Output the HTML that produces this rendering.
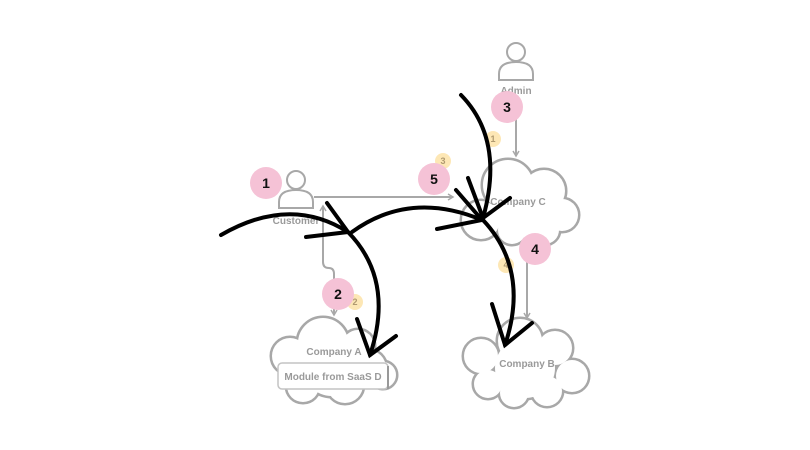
<!DOCTYPE html>
<html><head><style>
html,body{margin:0;padding:0;background:#fff;width:810px;height:450px;overflow:hidden}
text{font-family:"Liberation Sans",sans-serif;font-weight:bold}
</style></head><body>
<svg width="810" height="450" viewBox="0 0 810 450" xmlns="http://www.w3.org/2000/svg">
<defs>
<marker id="ga" markerWidth="8" markerHeight="8" refX="6" refY="4" orient="auto" markerUnits="userSpaceOnUse"><path d="M1,1 L6,4 L1,7" fill="none" stroke="#a8a8a8" stroke-width="1.5"/></marker>
<g id="cC"><circle cx="508" cy="185" r="25"/><circle cx="544" cy="191" r="21"/><circle cx="562" cy="215" r="16"/><circle cx="545" cy="230" r="14"/><circle cx="512" cy="230" r="14"/><circle cx="481" cy="220" r="19"/><circle cx="520" cy="210" r="28"/></g>
<g id="cA"><circle cx="323" cy="343" r="25"/><circle cx="358" cy="346" r="16"/><circle cx="383" cy="375" r="13"/><circle cx="345" cy="385" r="18"/><circle cx="303" cy="386" r="16"/><circle cx="290" cy="356" r="18"/><circle cx="332" cy="366" r="30"/><circle cx="368" cy="368" r="18"/></g>
<g id="cB"><circle cx="520" cy="341" r="22"/><circle cx="555" cy="348" r="17"/><circle cx="572" cy="376" r="16"/><circle cx="547" cy="391" r="15"/><circle cx="514" cy="393" r="14"/><circle cx="488" cy="384" r="14"/><circle cx="481" cy="356" r="17"/><circle cx="525" cy="368" r="30"/></g>
</defs>
<!-- grey connectors -->
<g fill="none" stroke="#a8a8a8" stroke-width="2">
<path d="M314,197 L453,197" marker-end="url(#ga)"/>
<path d="M323,262 Q323,268 329,268 Q334,268 334,274 L334,315" marker-end="url(#ga)"/>
<path d="M323,262 L323,206" marker-end="url(#ga)"/>
<path d="M516,112 L516,156" marker-end="url(#ga)"/>
<path d="M527,244 L527,318" marker-end="url(#ga)"/>
</g>
<!-- clouds -->
<g fill="#a8a8a8" stroke="#a8a8a8" stroke-width="5"><use href="#cC"/><use href="#cA"/><use href="#cB"/></g>
<g fill="#fff"><use href="#cC"/><use href="#cA"/><use href="#cB"/></g>
<!-- module box -->
<rect x="278" y="363" width="110" height="26" rx="4" fill="#fff" stroke="#c4c4c4" stroke-width="1.5"/>
<line x1="388" y1="366" x2="388" y2="389" stroke="#999" stroke-width="2"/>
<g fill="#9a9a9a" font-size="10" text-anchor="middle">
<text x="333" y="380">Module from SaaS D</text>
<text x="334" y="355">Company A</text>
<text x="527" y="367">Company B</text>
<text x="518" y="205">Company C</text>
<text x="296" y="224">Customer</text>
<text x="516" y="94">Admin</text>
</g>
<!-- person icons -->
<g fill="#fff" stroke="#a8a8a8" stroke-width="2">
<circle cx="296" cy="180" r="9"/><path d="M279,208 L279,202 Q279,190 296,190 Q313,190 313,202 L313,208 Z"/>
<circle cx="516" cy="52" r="9"/><path d="M499,80 L499,74 Q499,62 516,62 Q533,62 533,74 L533,80 Z"/>
</g>
<!-- yellow badges -->
<g fill="#fde7b5"><circle cx="355" cy="302" r="8"/><circle cx="493" cy="139" r="8"/><circle cx="443" cy="161" r="8"/><circle cx="506" cy="265" r="8"/></g>
<g fill="#b09a70" font-size="9" text-anchor="middle" style="font-weight:normal">
<text x="355" y="305">2</text><text x="493" y="142">1</text><text x="443" y="164">3</text><text x="506" y="268">4</text></g>
<!-- black curves -->
<g fill="none" stroke="#000" stroke-width="4" stroke-linecap="round">
<path d="M221,235 Q290,195 348,232"/><path d="M327,203 L348,232 L306,237"/>
<path d="M348,232 Q395,280 370,355"/><path d="M357,319 L370,355 L396,336"/>
<path d="M352,232 Q410,190 482,220"/><path d="M456,190 L482,220 L437,229"/>
<path d="M461,95 Q505,140 483,218"/><path d="M468,178 L483,218 L510,198"/>
<path d="M483,220 Q530,270 505,345"/><path d="M492,304 L505,345 L532,323"/>
</g>
<!-- pink badges -->
<g fill="#f5c2d6"><circle cx="266" cy="183" r="16"/><circle cx="338" cy="294" r="16"/><circle cx="507" cy="107" r="16"/><circle cx="535" cy="249" r="16"/><circle cx="434" cy="179" r="16"/></g>
<g fill="#111" font-size="14" text-anchor="middle">
<text x="266" y="188">1</text><text x="338" y="299">2</text><text x="507" y="112">3</text><text x="535" y="254">4</text><text x="434" y="184">5</text></g>
</svg>
</body></html>
